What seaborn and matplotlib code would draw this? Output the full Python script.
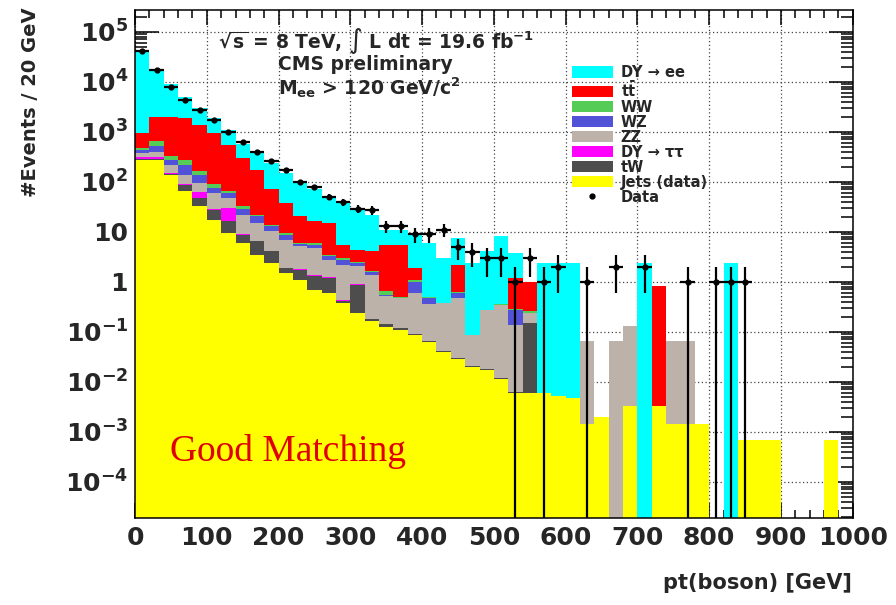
import numpy as np
import pandas as pd
import matplotlib
matplotlib.use("Agg")
import matplotlib.pyplot as plt
import seaborn as sns
from matplotlib.patches import Patch
from matplotlib.lines import Line2D
from matplotlib.ticker import (FixedLocator, FixedFormatter, LogLocator,
                               MultipleLocator, NullFormatter)

sns.set_style("ticks")
plt.rcParams["font.family"] = ["DejaVu Sans"]
plt.rcParams["font.weight"] = "bold"
plt.rcParams["mathtext.fontset"] = "dejavusans"
plt.rcParams["mathtext.default"] = "bf"

# 20 GeV bins from 0 to 1000 GeV
bin_edges = list(range(0, 1001, 20))
bin_centers = np.array(bin_edges[:-1]) + 10

# =====================================================
# EVENTS PER BIN
# =====================================================
jets = [275, 275, 138, 64.6, 32.4, 17.4, 9.33, 5.89, 3.47, 2.34,
        1.48, 1.10, 0.69, 0.59, 0.372, 0.24, 0.162, 0.126, 0.107, 0.087,
        0.063, 0.040, 0.028, 0.020, 0.017, 0.0112, 0.0059, 0.0059, 0.0059, 0.0051,
        0.0047, 0.0014, 0.0020, 0, 0.0033, 0, 0.0033, 0.0014, 0.0014, 0.0014,
        0, 0, 0.00068, 0.00068, 0.00068, 0, 0, 0, 0.00068, 0]
tw = [13, 7, 7, 22.5, 14.4, 10.1, 6.9, 2.8, 3.0, 1.73,
      0.38, 0.64, 0.63, 0.61, 0.045, 0.63, 0.016, 0.015, 0.010, 0.004,
      0.003, 0.002, 0.0013, 0.0009, 0.0008, 0.0005, 0.0004, 0.142, 0, 0,
      0, 0, 0, 0, 0, 0, 0, 0, 0, 0,
      0, 0, 0, 0, 0, 0, 0, 0, 0, 0]
dy_tautau = [28, 34, 3, 2, 14.9, 1.3, 13.3, 0.2, 0.15, 0.1,
             0.05, 0.04, 0.03, 0.03, 0.01, 0.02, 0.004, 0, 0, 0,
             0, 0, 0, 0, 0, 0, 0, 0, 0, 0,
             0, 0, 0, 0, 0, 0, 0, 0, 0, 0,
             0, 0, 0, 0, 0, 0, 0, 0, 0, 0]
zz = [56, 82, 71, 49, 31.6, 30.1, 17.3, 13.0, 8.2, 6.0,
      5.0, 3.35, 3.33, 1.52, 1.76, 1.15, 1.2, 0.372, 0.351, 0.498,
      0.289, 0.33, 0.44, 0.066, 0.258, 0.335, 0.132, 0.086, 0, 0,
      0, 0.063, 0, 0.065, 0.126, 0, 0, 0.063, 0.063, 0,
      0, 0, 0, 0, 0, 0, 0, 0, 0, 0]
wz = [55, 115, 56, 81, 44.7, 17, 12.1, 6.9, 5.6, 2.7,
      1.8, 0.62, 0.82, 0.49, 0.56, 0.30, 0.20, 0.024, 0.011, 0.411,
      0.113, 0, 0.121, 0, 0, 0, 0.137, 0, 0, 0,
      0, 0, 0, 0, 0, 0, 0, 0, 0, 0,
      0, 0, 0, 0, 0, 0, 0, 0, 0, 0]
ww = [41, 133, 56, 56, 24, 13.2, 5.7, 4.3, 1.5, 0.9,
      0.62, 0.28, 0.39, 0.23, 0.27, 0.17, 0.08, 0.109, 0.011, 0.07,
      0.033, 0, 0.028, 0, 0, 0.016, 0.013, 0.023, 0, 0,
      0, 0, 0, 0, 0, 0, 0, 0, 0, 0,
      0, 0, 0, 0, 0, 0, 0, 0, 0, 0]
ttbar = [487, 1304, 1619, 1587, 1218, 844, 472, 262, 148, 58.6,
         28.7, 14.4, 10.7, 11.3, 2.48, 1.86, 2.41, 4.85, 5.01, 0.79,
         0, 0, 1.57, 0, 0, 0, 0.887, 0.743, 0, 0,
         0, 0, 0, 0, 0, 0, 0.81, 0, 0, 0,
         0, 0, 0, 0, 0, 0, 0, 0, 0, 0]
dy_ee = [42700, 15830, 7170, 3150, 1640, 972, 535, 280, 210, 168,
         113, 75.1, 54.2, 36.5, 34.3, 23.1, 17.8, 5.5, 5.5, 6.65,
         5.39, 2.58, 5.22, 2.26, 3.80, 7.77, 2.54, 0, 2.33, 2.33,
         2.34, 0, 0, 0, 0, 2.34, 0, 0, 0, 0,
         0, 2.34, 0, 0, 0, 0, 0, 0, 0, 0]
data = [42000, 17000, 7700, 4400, 2750, 1740, 1000, 630, 388, 263,
        174, 100, 78, 50, 39, 29, 27, 13, 13, 9,
        9, 11, 5, 4, 3, 3, 1, 3, 1, 2,
        0, 1, 0, 2, 0, 2, 0, 0, 1, 0,
        1, 1, 1, 0, 0, 0, 0, 0, 0, 0]

# stack order: first = top, last = bottom
samples = ["DY → ee", r"t$\bar{t}$", "WW", "WZ", "ZZ", "DY → ττ", "tW", "Jets (data)"]
yields = [dy_ee, ttbar, ww, wz, zz, dy_tautau, tw, jets]
colors = ["#00ffff", "#ff0000", "#55cc55", "#5252d9", "#bcb2aa", "#ff00ff", "#4d4d4d", "#ffff00"]

frames = []
for name, vals in zip(samples, yields):
    frames.append(pd.DataFrame({"pt": bin_centers, "events": vals, "sample": name}))
df = pd.concat(frames, ignore_index=True)

# =====================================================
# PLOT
# =====================================================
fig = plt.figure(figsize=(8.96, 6.05), dpi=100)
ax = fig.add_axes([0.1507, 0.1438, 0.801, 0.8397])

sns.histplot(data=df, x="pt", weights="events", hue="sample", hue_order=samples,
             palette=dict(zip(samples, colors)), multiple="stack", bins=bin_edges,
             element="bars", linewidth=0, alpha=1, antialiased=False,
             legend=False, ax=ax)

d = np.array(data, dtype=float)
has = d > 0
err = np.sqrt(d[has])
err_lo = np.minimum(err, d[has] * 0.999999)
ax.errorbar(bin_centers[has], d[has], xerr=10, yerr=[err_lo, err], fmt="o", ms=3.5,
            color="black", elinewidth=1.6, capsize=0, zorder=6)

ax.set_yscale("log")
ax.set_xlim(0, 1000)
ax.set_ylim(10 ** -4.726, 10 ** 5.434)
ax.set_xlabel("")
ax.set_ylabel("")

# ROOT-like ticks and grid
ax.xaxis.set_major_locator(MultipleLocator(100))
ax.xaxis.set_minor_locator(MultipleLocator(20))
decades = [1e-4, 1e-3, 1e-2, 1e-1, 1, 10, 1e2, 1e3, 1e4, 1e5]
ylabels = ["$10^{-4}$", "$10^{-3}$", "$10^{-2}$", "$10^{-1}$", "1", "10",
           "$10^{2}$", "$10^{3}$", "$10^{4}$", "$10^{5}$"]
ax.yaxis.set_major_locator(FixedLocator(decades))
ax.yaxis.set_major_formatter(FixedFormatter(ylabels))
ax.yaxis.set_minor_locator(LogLocator(base=10, subs=np.arange(2, 10), numticks=100))
ax.yaxis.set_minor_formatter(NullFormatter())
ax.tick_params(which="both", direction="in", top=True, right=True, width=1.1, color="black")
ax.tick_params(axis="x", which="major", length=11, pad=6, labelsize=18)
ax.tick_params(axis="x", which="minor", length=5.5)
ax.tick_params(axis="y", which="major", length=17, pad=5, labelsize=18)
ax.tick_params(axis="y", which="minor", length=8.5)
for sp in ax.spines.values():
    sp.set_linewidth(1.1)
    sp.set_color("black")
ax.grid(which="major", linestyle=(0, (1, 2)), color="#444444", linewidth=0.9)
ax.set_axisbelow(True)

# axis titles
fig.text(852 / 896, 1 - 583 / 605, "pt(boson) [GeV]", ha="right", va="center", fontsize=15)
fig.text(31 / 896, 1 - 7 / 605, "#Events / 20 GeV", rotation=90, ha="center", va="top", fontsize=14)

# labels on the plot
txt = dict(color="#262626", fontsize=13.5, va="center", ha="left")
fig.text(218 / 896, 1 - 41 / 605, r"$\sqrt{s}$ = 8 TeV, $\int$ L dt = 19.6 fb$^{-1}$", **txt)
fig.text(278 / 896, 1 - 64 / 605, "CMS preliminary", **txt)
fig.text(278 / 896, 1 - 88 / 605, r"M$_{ee}$ > 120 GeV/c$^{2}$", **txt)

fig.text(170 / 896, 1 - 461 / 605, "Good Matching", color="#e00000", fontsize=27,
         family=["Liberation Serif", "DejaVu Serif"], fontweight="normal", va="baseline")

# legend
handles = [Patch(facecolor=c, edgecolor="none") for c in colors]
handles.append(Line2D([], [], ls="none", marker="o", ms=3.5, color="black"))
leg = ax.legend(handles, samples + ["Data"], loc="upper left",
                bbox_to_anchor=(572 / 896, 1 - 65 / 605), bbox_transform=fig.transFigure,
                frameon=False, fontsize=10.5, handlelength=2.8, handleheight=0.8,
                handletextpad=0.55, labelspacing=0.0, borderpad=0, borderaxespad=0)
for t in leg.get_texts():
    t.set_color("#262626")

fig.savefig("out.png", dpi=100)
